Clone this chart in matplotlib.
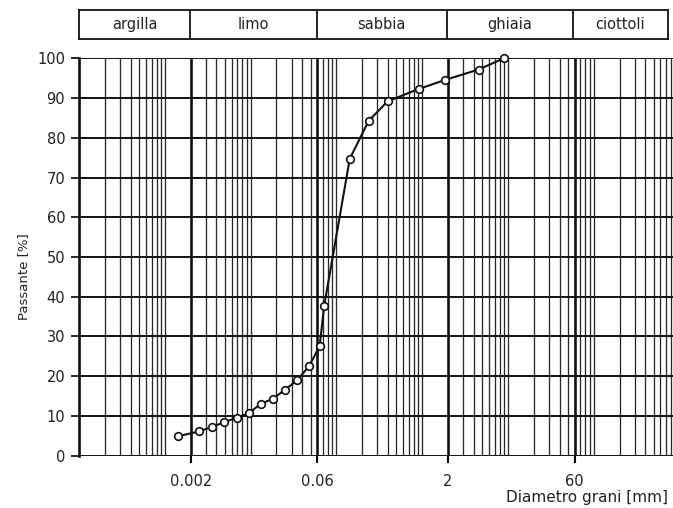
import numpy as np
import matplotlib.pyplot as plt
from matplotlib.ticker import FixedLocator, LogLocator, NullFormatter

# grain size curve (diameter in mm, passing in %)
diametro = [0.00143, 0.0025, 0.00351, 0.00489, 0.00692, 0.00955, 0.0132,
            0.0181, 0.0252, 0.0349, 0.0482, 0.0638, 0.0719, 0.143, 0.238,
            0.396, 0.91, 1.86, 4.54, 8.9]
passante = [4.9, 6.1, 7.2, 8.4, 9.6, 10.7, 13.1, 14.3, 16.6, 19.0, 22.6,
            27.6, 37.6, 74.7, 84.3, 89.2, 92.3, 94.6, 97.2, 100.0]

# class limits and names
limiti = [0.002, 0.06, 2, 60]
limiti_label = ['0.002', '0.06', '2', '60']
classi = ['argilla', 'limo', 'sabbia', 'ghiaia', 'ciottoli']
y_ticks = list(range(0, 101, 10))

x_min, x_max = 1.0e-4, 840

fig = plt.figure(figsize=(6.73, 5.08), dpi=100)
ax = fig.add_axes([0.1175, 0.103, 0.8825, 0.782])

ax.set_xscale('log')
ax.set_xlim(x_min, x_max)
ax.set_ylim(0, 100)

# vertical grid: thick lines at class limits, thin log lines in between
ax.xaxis.set_major_locator(FixedLocator(limiti))
ax.set_xticklabels(limiti_label, fontsize=10.5, color='#222222')
ax.xaxis.set_minor_locator(LogLocator(base=10, subs=np.arange(1, 10), numticks=50))
ax.xaxis.set_minor_formatter(NullFormatter())
ax.set_yticks(y_ticks)
ax.set_yticklabels([str(v) for v in y_ticks], fontsize=10.5, color='#222222')

ax.grid(which='major', axis='x', color='#111111', lw=1.9)
ax.grid(which='minor', axis='x', color='#2a2a2a', lw=0.95)
ax.grid(which='major', axis='y', color='#111111', lw=1.4)
ax.set_axisbelow(True)

ax.tick_params(axis='x', which='major', length=5, width=1.5, direction='out', pad=8)
ax.tick_params(axis='x', which='minor', length=0)
ax.tick_params(axis='y', length=6, width=1.2, direction='out', pad=4)

for side in ['right', 'bottom', 'top']:
    ax.spines[side].set_visible(False)
ax.spines['left'].set_linewidth(1.9)
ax.spines['left'].set_color('#111111')

ax.plot(diametro, passante, color='#111111', lw=1.5, marker='o', ms=5.5,
        mfc='white', mec='#111111', mew=1.2, zorder=5, clip_on=False)

ax.set_ylabel('Passante [%]', fontsize=9.5, color='#222222')
ax.yaxis.set_label_coords(-0.083, 0.45)
fig.text(0.993, 0.006, 'Diametro grani [mm]', fontsize=11, color='#222222',
         ha='right', va='bottom')

# band with the soil class names on top
band = fig.add_axes([0.1175, 0.923, 0.875, 0.057])
band.set_xscale('log')
band.set_xlim(x_min, x_max * 0.92)
band.set_ylim(0, 1)
band.set_xticks([])
band.set_yticks([])
band.minorticks_off()
for s in band.spines.values():
    s.set_linewidth(1.3)
    s.set_color('#111111')
bordi = [x_min] + limiti + [x_max * 0.92]
for x in limiti:
    band.axvline(x, color='#111111', lw=1.3)
for i, nome in enumerate(classi):
    xc = np.sqrt(bordi[i] * bordi[i + 1])
    band.text(xc, 0.5, nome, ha='center', va='center', fontsize=10.5,
              color='#222222')

fig.savefig('out.png', dpi=100)
